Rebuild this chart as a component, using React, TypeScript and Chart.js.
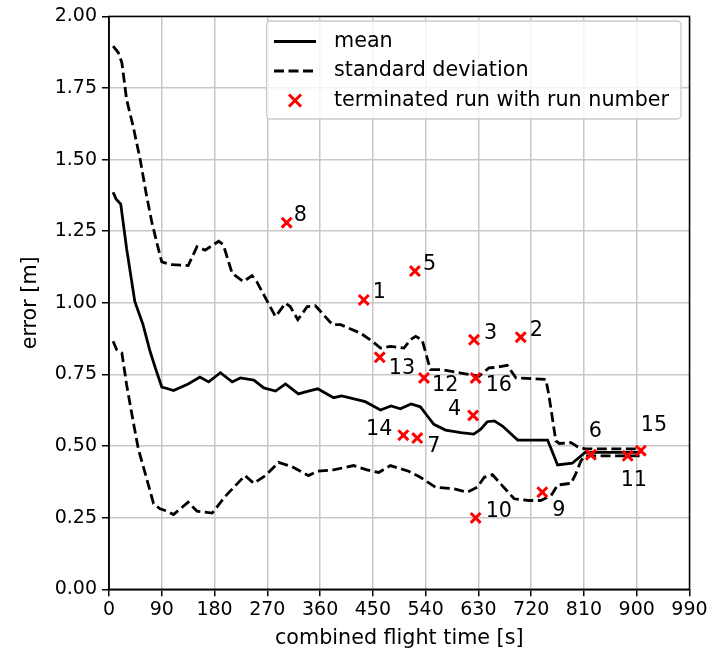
import React, { useEffect, useRef } from "react";
import { Chart, registerables } from "chart.js";

Chart.register(...registerables);

// Mean error over combined flight time [s]
const meanTime = [7, 12, 20, 30, 44, 58, 70, 79, 90, 99, 110, 135, 155, 170, 190, 210, 224, 247, 264, 284, 301, 323, 340, 356, 383, 397, 437, 463, 481, 497, 515, 531, 543, 554, 574, 600, 622, 634, 645, 657, 671, 697, 748, 765, 790, 812, 907];
const meanError = [1.386, 1.363, 1.345, 1.19, 1.005, 0.924, 0.831, 0.773, 0.706, 0.701, 0.694, 0.717, 0.741, 0.724, 0.756, 0.724, 0.738, 0.73, 0.703, 0.692, 0.717, 0.682, 0.692, 0.7, 0.669, 0.675, 0.655, 0.626, 0.64, 0.63, 0.647, 0.637, 0.605, 0.576, 0.556, 0.547, 0.542, 0.559, 0.585, 0.588, 0.57, 0.521, 0.521, 0.434, 0.44, 0.478, 0.478];

// Mean + standard deviation
const upperTime = [7, 16, 22, 30, 41, 53, 64, 73, 84, 90, 104, 135, 150, 164, 187, 195, 210, 229, 244, 252, 284, 301, 309, 322, 338, 352, 366, 381, 395, 429, 449, 463, 480, 503, 514, 523, 534, 548, 566, 600, 631, 648, 662, 679, 694, 745, 750, 756, 762, 768, 788, 799, 812, 907];
const upperError = [1.896, 1.873, 1.838, 1.71, 1.618, 1.502, 1.375, 1.282, 1.19, 1.143, 1.134, 1.13, 1.196, 1.184, 1.215, 1.203, 1.103, 1.074, 1.095, 1.074, 0.952, 0.999, 0.987, 0.941, 0.987, 0.99, 0.958, 0.924, 0.924, 0.894, 0.866, 0.842, 0.848, 0.842, 0.871, 0.883, 0.871, 0.767, 0.767, 0.755, 0.744, 0.773, 0.775, 0.782, 0.738, 0.733, 0.68, 0.6, 0.518, 0.509, 0.512, 0.498, 0.49, 0.49];

// Mean - standard deviation
const lowerTime = [7, 13, 22, 30, 39, 50, 62, 76, 87, 99, 110, 135, 150, 176, 198, 232, 247, 267, 289, 312, 340, 355, 383, 417, 440, 460, 480, 511, 531, 557, 588, 611, 628, 640, 654, 668, 691, 716, 736, 754, 765, 788, 796, 805, 812, 907];
const lowerError = [0.866, 0.837, 0.825, 0.715, 0.611, 0.49, 0.403, 0.299, 0.281, 0.273, 0.261, 0.304, 0.273, 0.266, 0.324, 0.397, 0.37, 0.397, 0.443, 0.428, 0.397, 0.412, 0.417, 0.432, 0.417, 0.408, 0.432, 0.412, 0.391, 0.356, 0.351, 0.339, 0.356, 0.391, 0.4, 0.368, 0.316, 0.31, 0.31, 0.327, 0.364, 0.37, 0.403, 0.449, 0.466, 0.466];

// Terminated runs
const runNumbers = ["8", "1", "5", "13", "12", "3", "16", "2", "4", "14", "7", "10", "9", "6", "11", "15"];
const runTime = [303, 434.5, 521.7, 461.8, 537.2, 622.5, 625.3, 702.2, 621, 502, 525.7, 625.3, 739, 821.8, 884.6, 907];
const runError = [1.28, 1.01, 1.111, 0.81, 0.738, 0.871, 0.738, 0.88, 0.607, 0.538, 0.528, 0.249, 0.339, 0.47, 0.466, 0.484];

// Label placement around each marker: [dx, dy, align]
const labelOffsets: [number, number, CanvasTextAlign][] = [
  [7, -7, "left"], [9, -7, "left"], [8, -6, "left"], [9, 11, "left"],
  [8, 8, "left"], [10, -6, "left"], [10, 8, "left"], [9, -7, "left"],
  [-12, -6, "right"], [-11, -6, "right"], [10, 9, "left"], [10, -6, "left"],
  [10, 18, "left"], [-2, -23, "left"], [-7, 25, "left"], [0, -25, "left"],
];

const yTicks = [0, 0.25, 0.5, 0.75, 1.0, 1.25, 1.5, 1.75, 2.0];

const FONT = "DejaVu Sans";
const TICK_FS = 19;
const FS = 20.7;
const LINE_W = 2.8;
const DASH = [10, 4.5];

const zip = (xs: number[], ys: number[]) => xs.map((x, i) => ({ x, y: ys[i] }));

const decorPlugin = {
  id: "decor",
  afterDatasetsDraw(chart: any) {
    const { ctx, chartArea, scales } = chart;
    ctx.save();
    // run number labels
    ctx.fillStyle = "#000";
    ctx.font = `${FS}px '${FONT}'`;
    ctx.textBaseline = "middle";
    runNumbers.forEach((lbl, i) => {
      const px = scales.x.getPixelForValue(runTime[i]);
      const py = scales.y.getPixelForValue(runError[i]);
      const [dx, dy, al] = labelOffsets[i];
      ctx.textAlign = al;
      ctx.fillText(lbl, px + dx, py + dy);
    });

    // legend
    const lx = 266.5, ly = 21, lw = 414.5, lh = 98;
    ctx.beginPath();
    ctx.roundRect(lx, ly, lw, lh, 4);
    ctx.fillStyle = "rgba(255,255,255,0.8)";
    ctx.fill();
    ctx.strokeStyle = "#cccccc";
    ctx.lineWidth = 1.3;
    ctx.stroke();

    const rows = [41.5, 71, 100.5];
    ctx.strokeStyle = "#000";
    ctx.lineWidth = LINE_W;
    ctx.beginPath();
    ctx.moveTo(274, rows[0]);
    ctx.lineTo(316, rows[0]);
    ctx.stroke();
    ctx.setLineDash(DASH);
    ctx.beginPath();
    ctx.moveTo(274, rows[1]);
    ctx.lineTo(316, rows[1]);
    ctx.stroke();
    ctx.setLineDash([]);
    ctx.strokeStyle = "#ff0000";
    ctx.lineWidth = 3;
    const mx = 295, my = rows[2], r = 6;
    ctx.beginPath();
    ctx.moveTo(mx - r, my - r);
    ctx.lineTo(mx + r, my + r);
    ctx.moveTo(mx - r, my + r);
    ctx.lineTo(mx + r, my - r);
    ctx.stroke();

    ctx.fillStyle = "#000";
    ctx.textAlign = "left";
    ctx.fillText("mean", 334, rows[0]);
    ctx.fillText("standard deviation", 334, rows[1]);
    ctx.fillText("terminated run with run number", 334, rows[2]);

    // axes frame
    ctx.strokeStyle = "#000";
    ctx.lineWidth = 1.5;
    ctx.strokeRect(chartArea.left, chartArea.top, chartArea.right - chartArea.left, chartArea.bottom - chartArea.top);
    ctx.restore();
  },
};

export default function App() {
  const ref = useRef<HTMLCanvasElement>(null);

  useEffect(() => {
    document.body.style.margin = "0";
    const canvas = ref.current!;
    const lineBase = { showLine: true, pointRadius: 0, borderColor: "#000", borderWidth: LINE_W, tension: 0, fill: false };
    const chart = new Chart(canvas, {
      type: "scatter",
      data: {
        datasets: [
          {
            label: "terminated run with run number",
            data: zip(runTime, runError),
            pointStyle: "crossRot",
            pointRadius: 7,
            pointBorderWidth: 3,
            borderColor: "#ff0000",
            backgroundColor: "#ff0000",
            showLine: false,
            order: 0,
          },
          { ...lineBase, label: "mean", data: zip(meanTime, meanError), order: 1 },
          { ...lineBase, label: "standard deviation", data: zip(upperTime, upperError), borderDash: DASH, order: 2 },
          { ...lineBase, label: "standard deviation", data: zip(lowerTime, lowerError), borderDash: DASH, order: 3 },
        ] as any,
      },
      options: {
        responsive: false,
        animation: false,
        events: [],
        layout: { padding: { left: 0, right: 25.5, top: 13.3, bottom: 0 } },
        plugins: { legend: { display: false }, tooltip: { enabled: false } },
        scales: {
          x: {
            type: "linear",
            min: 0,
            max: 990,
            afterBuildTicks: (s: any) => {
              s.ticks = Array.from({ length: 12 }, (_, i) => ({ value: i * 90 }));
            },
            ticks: { color: "#000", font: { family: FONT, size: TICK_FS }, padding: 2, maxRotation: 0, autoSkip: false },
            grid: { color: "#c8c8c8", lineWidth: 1.5, tickColor: "#000", tickLength: 7, drawTicks: true },
            border: { color: "#000", width: 1.5 },
            title: { display: true, text: "combined flight time [s]", color: "#000", font: { family: FONT, size: FS }, padding: { top: 0, bottom: 3 } },
            afterFit: (s: any) => { s.height = 654 - 589.3; },
          },
          y: {
            type: "linear",
            min: 0,
            max: 2,
            afterBuildTicks: (s: any) => {
              s.ticks = yTicks.map((v) => ({ value: v }));
            },
            ticks: { color: "#000", font: { family: FONT, size: TICK_FS }, padding: 5, callback: (v: any) => Number(v).toFixed(2), autoSkip: false },
            grid: { color: "#c8c8c8", lineWidth: 1.5, tickColor: "#000", tickLength: 7 },
            border: { color: "#000", width: 1.5 },
            title: { display: true, text: "error [m]", color: "#000", font: { family: FONT, size: FS }, padding: { top: 18, bottom: 0 } },
            afterFit: (s: any) => { s.width = 109; },
          },
        },
      } as any,
      plugins: [decorPlugin],
    });
    return () => chart.destroy();
  }, []);

  return <canvas ref={ref} width={715} height={654} style={{ display: "block", width: 715, height: 654 }} />;
}
